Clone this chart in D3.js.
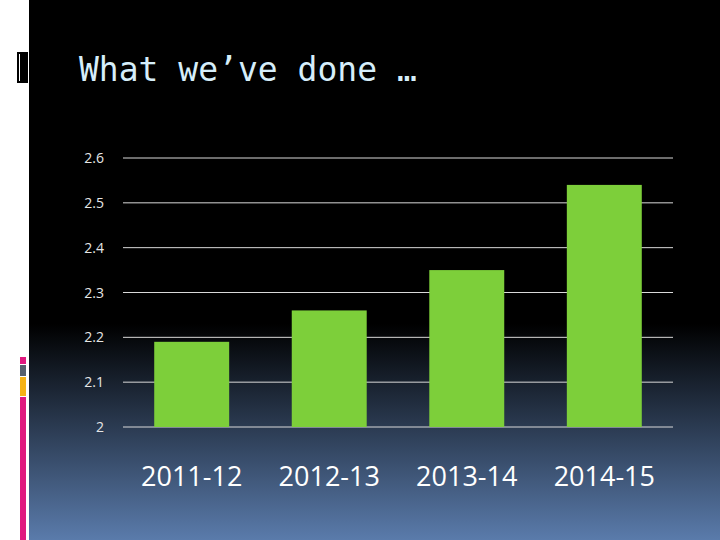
<!DOCTYPE html><html><head><meta charset="utf-8"><script src="https://cdn.jsdelivr.net/npm/d3@7"></script>
<style>body{margin:0;background:#fff}svg{display:block}</style></head><body><svg id="c" width="720" height="540"></svg>
<script>
const categories=["2011-12","2012-13","2013-14","2014-15"];
const values=[2.19,2.26,2.35,2.54];
const ticks=[2,2.1,2.2,2.3,2.4,2.5,2.6];
const svg=d3.select("#c");
const defs=svg.append("defs");
const g=defs.append("linearGradient").attr("id","bg").attr("x1",0).attr("y1",0).attr("x2",0).attr("y2",1);
g.append("stop").attr("offset","0.6").attr("stop-color","#000");
g.append("stop").attr("offset","1").attr("stop-color","#5a7bab");
svg.append("rect").attr("x",29).attr("y",0).attr("width",691).attr("height",540).attr("fill","url(#bg)");
svg.append("rect").attr("x",17).attr("y",52).attr("width",11).attr("height",31).attr("fill","#000");
svg.append("rect").attr("x",19).attr("y",54).attr("width",1).attr("height",27).attr("fill","#fff");
[[357,364,"#e0197f"],[365,376,"#56606d"],[377,396,"#f6b315"],[397,540,"#e0197f"]].forEach(d=>svg.append("rect").attr("x",20).attr("y",d[0]).attr("width",6).attr("height",d[1]-d[0]).attr("fill",d[2]));
svg.append("text").attr("x",79).attr("y",81).attr("font-family","DejaVu Sans Mono").attr("font-size",33).attr("fill","#d6eefa").text("What we’ve done …");
const x=d3.scaleBand().domain(categories).range([123,673]).paddingInner(0.455).paddingOuter(0.227);
const y=d3.scaleLinear().domain([2,2.6]).range([427,158]);
svg.append("g").selectAll("line").data(ticks).join("line").attr("x1",123).attr("x2",673).attr("y1",d=>y(d)).attr("y2",d=>y(d)).attr("stroke","#d9d9d9").attr("stroke-width",1);
svg.append("g").selectAll("text").data(ticks).join("text").attr("x",104).attr("y",d=>y(d)+5).attr("text-anchor","end").attr("font-family","Open Sans").attr("font-size",14).attr("fill","#e6e6e6").text(d=>d);
svg.append("g").selectAll("rect").data(values).join("rect").attr("x",(d,i)=>x(categories[i])).attr("width",x.bandwidth()).attr("y",d=>y(d)).attr("height",d=>y(2)-y(d)).attr("fill","#7dcf3a");
svg.append("g").selectAll("text").data(categories).join("text").attr("x",d=>x(d)+x.bandwidth()/2).attr("y",486).attr("text-anchor","middle").attr("font-family","Open Sans").attr("font-size",27).attr("fill","#fff").text(d=>d);
</script></body></html>
